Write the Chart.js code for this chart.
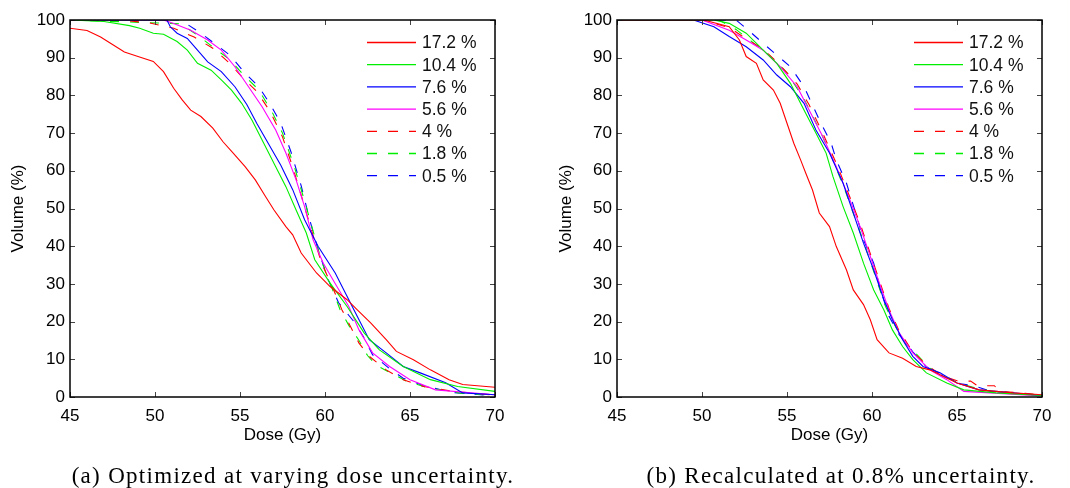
<!DOCTYPE html>
<html>
<head>
<meta charset="utf-8">
<script src="https://cdn.jsdelivr.net/npm/chart.js@4/dist/chart.umd.min.js"></script>
<style>
  body { margin: 0; background: #fff; width: 1070px; height: 488px; position: relative; overflow: hidden; }
  .box { position: absolute; top: 0; width: 535px; height: 488px; }
  .cap { position: absolute; top: 463px; font-family: "Liberation Serif", serif; font-size: 23px; letter-spacing: 1.3px; color: #000; white-space: nowrap; transform: translateX(-50%); }
</style>
</head>
<body>
<div class="box" style="left:0"><canvas id="chartA"></canvas></div>
<div class="box" style="left:535px"><canvas id="chartB"></canvas></div>
<div class="cap" style="left:293px">(a) Optimized at varying dose uncertainty.</div>
<div class="cap" style="left:841px">(b) Recalculated at 0.8% uncertainty.</div>
<script>
// legend labels, one per curve
var labels = ["17.2 %", "10.4 %", "7.6 %", "5.6 %", "4 %", "1.8 %", "0.5 %"];
var colors = ["#ff0000", "#00ee00", "#0000ff", "#ff00ff", "#ff0000", "#00ee00", "#0000ff"];
var dashed = [false, false, false, false, true, true, true];

// x ticks / y ticks
var doseTicks = [45, 50, 55, 60, 65, 70];
var volTicks = [0, 10, 20, 30, 40, 50, 60, 70, 80, 90, 100];

// (a) optimized at varying uncertainty  [dose Gy, volume %]
var a172 = [[45,97.8],[46,97.2],[46.8,95.5],[47.5,93.5],[48.2,91.5],[49,90.3],[49.9,89],[50.5,86.3],[51.1,81.9],[51.6,78.8],[52.1,76.1],[52.7,74.4],[53.4,71.3],[54,67.7],[54.6,64.7],[55.3,61.1],[55.9,57.6],[56.5,53.2],[57,49.6],[57.7,45.2],[58.1,43],[58.6,38.2],[59.5,32.9],[60.3,29.3],[61.3,25.8],[61.9,23.1],[62.7,19.6],[63.6,15.2],[64.2,12.1],[65.2,9.9],[66.2,7.2],[67.3,4.6],[68.1,3.3],[70,2.6]];
var a104 = [[45,100],[47,99.6],[48.5,98.5],[49.1,97.8],[49.9,96.5],[50.5,96.2],[51.3,94.3],[51.9,92],[52.5,88.5],[53.3,86.7],[53.9,84.1],[54.5,81.4],[55.1,77.9],[55.7,73.5],[56.3,68.2],[57.1,61.1],[57.7,55.8],[58.3,49.6],[58.9,43.5],[59.4,36.4],[60.3,30.2],[61.3,24],[62.3,17],[63.2,12.5],[64.6,8.1],[66.2,4.6],[67.8,2.8],[70,1.5]];
var a76 = [[45,100],[50.7,100],[50.9,98.2],[51.3,96.5],[51.9,95.1],[52.5,92],[53.1,88.9],[53.9,86.3],[54.7,82.3],[55.4,77.6],[56,72.5],[56.7,67],[57.4,61.5],[58.1,55],[58.8,47],[59.6,39.9],[60.6,32.9],[61.4,25.8],[62,20.5],[62.6,15.2],[63.6,11.7],[64.6,8.1],[65.6,6.4],[67.1,3.8],[68.1,1.1],[70,0.6]];
var a56 = [[45,100],[50.5,100],[51.1,99.1],[52.1,97.3],[53.1,94.7],[53.9,92],[54.7,87.6],[55.5,82.3],[56.3,77],[57.1,70.8],[57.7,64.7],[58.3,57.6],[58.8,50.5],[59.3,41.7],[59.9,35.5],[60.7,29.3],[61.4,24],[62,17.8],[62.8,11.7],[63.8,8.1],[65,4.6],[66.5,1.9],[70,0.6]];
var a40 = [[45,100],[48,100],[49.7,99.2],[51.1,97.8],[52.3,95.5],[53.4,92.5],[54.3,88.9],[55.2,84.5],[56,81],[56.8,75.5],[57.5,69],[58.1,61],[58.7,52],[59.2,44.3],[59.8,35.5],[60.5,28.5],[61,23.1],[61.5,18.7],[62,14.3],[62.6,10.8],[63.6,7.2],[64.6,4.6],[65.8,2.8],[67.5,1.5],[70,0.5]];
var a18 = [[45,100],[51.5,99],[52.5,96],[53.5,92.5],[54.4,89.5],[55.3,85],[56.1,81.5],[56.9,75.5],[57.5,70],[58.2,61],[58.8,52],[59.3,44],[59.8,36],[60.4,29],[60.9,23],[61.4,19],[62,15],[62.5,11],[63,8.5],[63.8,6.5],[64.8,4.2],[66,2.5],[68,1],[70,0.4]];
var a05 = [[45,100],[51.5,100],[52.7,96.5],[54.4,90.7],[55.3,85.9],[56.1,82.3],[56.8,77.5],[57.4,72.6],[58,65],[58.6,56],[59.1,47],[59.6,39],[60.2,31],[60.8,25],[61.7,20],[62.3,15.7],[62.8,11.2],[63.8,7.5],[64.6,5],[65.8,3],[67.5,1.2],[70,0.3]];

// (b) recalculated at 0.8 % uncertainty
var b172 = [[45,100],[50.1,100],[51.6,98.2],[52.2,94.7],[52.6,90.3],[53.2,88.5],[53.6,84.1],[54.2,81.4],[54.6,77.9],[55,72.6],[55.4,67.3],[55.8,62.9],[56.1,59.4],[56.5,54.9],[56.9,48.8],[57.5,45.2],[57.9,39.9],[58.5,33.7],[58.9,28.4],[59.5,24.5],[59.9,20.5],[60.3,15.2],[61,11.7],[61.8,10.3],[62.6,8.1],[63.4,7.2],[65,3.7],[66.3,1.9],[68.3,1.1],[70,0.6]];
var b104 = [[45,100],[50.7,100],[51.6,99.1],[52.6,96.5],[53.6,92],[54.4,88.5],[55.2,83.2],[56,76.1],[56.7,70],[57.3,64.7],[57.7,58.5],[58.3,50.5],[58.9,43.5],[59.5,35.5],[60.1,28.4],[60.7,23.1],[61.2,17.8],[61.8,13.4],[62.4,9.9],[63.2,6.4],[64.4,3.7],[65.4,1.9],[67.3,1.1],[70,0.4]];
var b76 = [[45,100],[49.5,100],[50.7,98.2],[51.6,95.6],[52.6,92.9],[53.6,89.4],[54.4,85.4],[55.2,82.3],[56,77.9],[56.7,70.8],[57.5,64.7],[58.3,56.7],[58.9,48.8],[59.5,40.8],[60.1,33.7],[60.7,25.8],[61.2,20.5],[61.8,15.2],[62.4,10.8],[63,8.1],[64,6.4],[65,3.7],[66.3,1.9],[68.3,1.1],[70,0.4]];
var b56 = [[45,100],[50,100],[51.6,97.3],[52.6,94.7],[53.6,92],[54.6,87.6],[55.6,82.3],[56.3,76.1],[57.1,69.1],[57.9,61.1],[58.7,52.3],[59.3,45.2],[59.9,37.3],[60.5,29.3],[61,23.1],[61.6,17],[62.4,11.7],[63.4,7.2],[64.4,4.6],[65.4,1.5],[70,0.3]];
var b40 = [[45,100],[50,100],[51.6,98],[52.6,95],[53.6,92.3],[54.6,88],[55.6,83],[56.3,77.5],[57.1,70],[57.9,62],[58.7,53],[59.3,46],[59.9,38],[60.5,30],[61,23.5],[61.6,17.5],[62.4,12],[63.2,8.5],[64.2,5.5],[65,4.3],[65.8,4.2],[66.2,3],[67.2,3],[67.5,1.5],[69,1],[70,0.5]];
var b18 = [[45,100],[51,100],[52,97.5],[53,94],[54,90.5],[55,86],[56,79],[56.9,71],[57.6,64],[58.4,55],[59,47.5],[59.6,40],[60.2,32],[60.8,24],[61.4,18.5],[62,14],[62.7,11],[63.3,8],[64.2,5.5],[65.2,3.5],[66,2.5],[67,1.5],[70,0.5]];
var b05 = [[45,100],[52,100],[52.6,97.8],[53.6,93.8],[54.4,90.7],[55.2,87.6],[56,82.3],[57,72.6],[57.6,67.3],[57.9,62.9],[58.5,56.7],[59.1,47.9],[59.5,41.7],[60.1,35.5],[60.5,28.4],[61,21.4],[61.6,16.5],[62.4,12],[63.2,8],[64.2,5.5],[65.2,3.5],[66,3],[67,1.5],[70,0.4]];

var seriesA = [a172, a104, a76, a56, a40, a18, a05];
var seriesB = [b172, b104, b76, b56, b40, b18, b05];

var FONT = "'Liberation Sans', Arial, sans-serif";

var frame = {
    id: 'frame',
    afterDraw: function (chart) {
        var ctx = chart.ctx, a = chart.chartArea;
        var xs = chart.scales.x, ys = chart.scales.y;
        ctx.save();
        // inward ticks on all four sides
        ctx.strokeStyle = '#444';
        ctx.lineWidth = 1;
        ctx.beginPath();
        doseTicks.forEach(function (v) {
            var px = Math.round(xs.getPixelForValue(v)) + 0.5;
            ctx.moveTo(px, a.bottom); ctx.lineTo(px, a.bottom - 5);
            ctx.moveTo(px, a.top); ctx.lineTo(px, a.top + 5);
        });
        volTicks.forEach(function (v) {
            var py = Math.round(ys.getPixelForValue(v)) + 0.5;
            ctx.moveTo(a.left, py); ctx.lineTo(a.left + 5, py);
            ctx.moveTo(a.right, py); ctx.lineTo(a.right - 5, py);
        });
        ctx.stroke();
        ctx.strokeStyle = '#000';
        ctx.lineWidth = 1.5;
        ctx.strokeRect(a.left, a.top, a.right - a.left, a.bottom - a.top);

        // legend, top right inside the axes
        ctx.font = '17.5px ' + FONT;
        ctx.fillStyle = '#111';
        ctx.textBaseline = 'middle';
        for (var i = 0; i < labels.length; i++) {
            var ly = a.top + 22.5 + i * 22.2;
            ctx.beginPath();
            ctx.strokeStyle = colors[i];
            ctx.lineWidth = 1.3;
            ctx.setLineDash(dashed[i] ? [10, 11] : []);
            ctx.moveTo(a.right - 128, ly);
            ctx.lineTo(a.right - 79, ly);
            ctx.stroke();
            ctx.setLineDash([]);
            ctx.fillText(labels[i], a.right - 73, ly + 1);
        }
        ctx.restore();
    }
};

function makeChart(id, series, pad) {
    var datasets = series.map(function (s, i) {
        return {
            label: labels[i],
            data: s.map(function (p) { return { x: p[0], y: p[1] }; }),
            borderColor: colors[i],
            borderWidth: 1.1,
            borderDash: dashed[i] ? [9, 11] : [],
            pointRadius: 0,
            fill: false,
            tension: 0
        };
    });
    return new Chart(document.getElementById(id), {
        type: 'line',
        data: { datasets: datasets },
        options: {
            responsive: true,
            maintainAspectRatio: false,
            animation: false,
            layout: { padding: { left: pad.left, right: pad.right, top: 20, bottom: 42 } },
            plugins: { legend: { display: false }, tooltip: { enabled: false } },
            scales: {
                x: {
                    type: 'linear', min: 45, max: 70,
                    afterBuildTicks: function (s) { s.ticks = doseTicks.map(function (v) { return { value: v }; }); },
                    afterFit: function (s) { s.height = 49; },
                    grid: { display: false, drawTicks: false },
                    border: { display: false },
                    ticks: { color: '#000', font: { size: 17, family: FONT }, padding: 9, maxRotation: 0 },
                    title: { display: true, text: 'Dose (Gy)', color: '#000', font: { size: 17, family: FONT }, padding: 0 }
                },
                y: {
                    type: 'linear', min: 0, max: 100,
                    afterBuildTicks: function (s) { s.ticks = volTicks.map(function (v) { return { value: v }; }); },
                    afterFit: function (s) { s.width = pad.axis; },
                    grid: { display: false, drawTicks: false },
                    border: { display: false },
                    ticks: { color: '#000', font: { size: 17, family: FONT }, padding: 5 },
                    title: { display: true, text: 'Volume (%)', color: '#000', font: { size: 17, family: FONT }, padding: 0 }
                }
            }
        },
        plugins: [frame]
    });
}

makeChart('chartA', seriesA, { left: 8, right: 40, axis: 62 });
makeChart('chartB', seriesB, { left: 21, right: 28, axis: 61 });
</script>
</body>
</html>
